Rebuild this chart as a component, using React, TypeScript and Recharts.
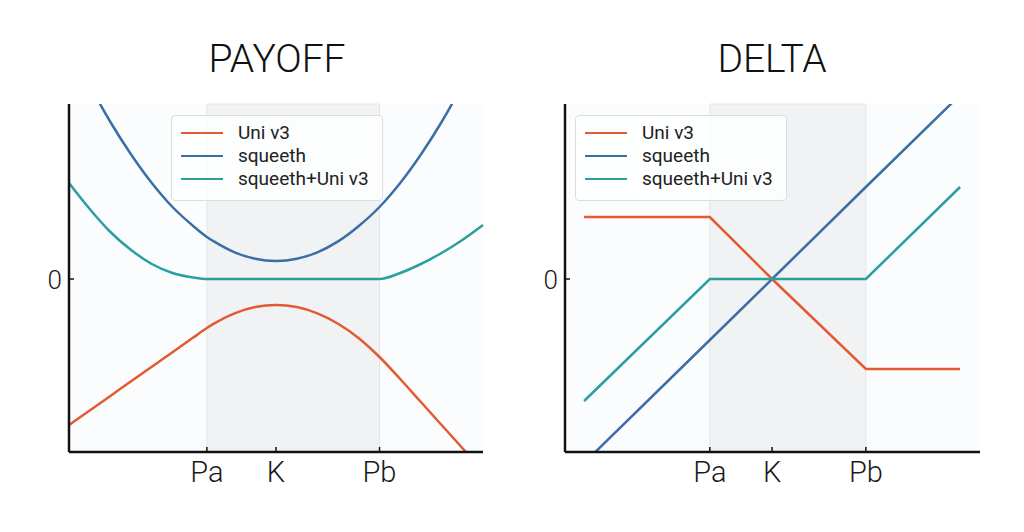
import React from 'react';
import { LineChart, Line, XAxis, YAxis, CartesianGrid, ReferenceArea, Legend } from 'recharts';

// price grid for the payoff panel (0..100, Pa / K / Pb marked)
const payoffX = [0, 5, 10, 15, 20, 25, 30, 33.3, 35, 40, 45, 50, 55, 60, 65, 70, 75, 80, 85, 90, 95, 100];
const payoffUni = [-146, -131.4, -116.9, -102.3, -87.8, -73.2, -58.6, -49, -44.7, -34.3, -28.1, -26, -28.1, -34.3, -44.7, -59.2, -78, -100, -123, -146, -169, -192];
const payoffSqueeth = [235, 194, 157, 124.5, 96, 72, 53, 42, 37.6, 26.7, 20.2, 18, 20.2, 26.7, 37.6, 53, 72, 96, 124.5, 157, 194, 235];
const payoffCombo = [96, 70, 47, 29, 15, 6, 1.5, 0, 0, 0, 0, 0, 0, 0, 0, 0, 0, 6, 15, 26, 39, 54];
const payoffTicks = [33.3, 50, 75];

// delta panel
const deltaX = [4.6, 34.9, 49.9, 72.5, 95.2];
const deltaUni = [62, 62, 0, -90, -90];
const deltaSqueeth = [-184, -61, 0, 92, 184];
const deltaCombo = [-122, 0, 0, 0, 92];
const deltaTicks = [34.9, 49.9, 72.5];

const tickLabels = ['Pa', 'K', 'Pb'];

const seriesNames = ['Uni v3', 'squeeth', 'squeeth+Uni v3'];
const seriesColors = ['#e35a32', '#3a6fa6', '#2b9f9f'];

const payoffData = payoffX.map((x, i) => ({ x, uni: payoffUni[i], sq: payoffSqueeth[i], combo: payoffCombo[i] }));
const deltaData = deltaX.map((x, i) => ({ x, uni: deltaUni[i], sq: deltaSqueeth[i], combo: deltaCombo[i] }));

const FONT = 'Roboto, "Helvetica Neue", Arial, sans-serif';

const makeXTick = (ticks: number[]) => (props: any) => {
    const { x, y, payload } = props;
    const label = tickLabels[ticks.indexOf(payload.value)];
    return (
        <g>
            <line x1={x} x2={x} y1={y} y2={y - 5} stroke="#111" strokeWidth={1.5} />
            <text x={x} y={y + 30} textAnchor="middle" fontSize={29} fontWeight={300} fill="#1a1a1a" fontFamily={FONT}>
                {label}
            </text>
        </g>
    );
};

const YTick = (props: any) => {
    const { x, y } = props;
    return (
        <g>
            <line x1={x} x2={x + 5} y1={y} y2={y} stroke="#111" strokeWidth={1.5} />
            <text x={x - 7} y={y + 9.5} textAnchor="end" fontSize={26} fontWeight={300} fill="#1a1a1a" fontFamily={FONT}>
                0
            </text>
        </g>
    );
};

const LegendBox = () => (
    <div
        style={{
            border: '1px solid #dcdde0',
            borderRadius: 4,
            background: 'rgba(255,255,255,0.8)',
            padding: '5px 0 10px 9px',
            boxSizing: 'border-box',
            width: 212,
            fontFamily: FONT,
        }}
    >
        {seriesNames.map((name, i) => (
            <div key={name} style={{ display: 'flex', alignItems: 'center', height: 23 }}>
                <span style={{ display: 'inline-block', width: 42, height: 0, borderTop: `2.5px solid ${seriesColors[i]}` }} />
                <span style={{ marginLeft: 15, fontSize: 19, fontWeight: 400, color: '#222', lineHeight: '23px' }}>{name}</span>
            </div>
        ))}
    </div>
);

interface PanelProps {
    data: any[];
    ticks: number[];
    pa: number;
    pb: number;
    curve: 'monotone' | 'linear';
    margin: { top: number; right: number; bottom: number; left: number };
    legendLeft: number;
}

const Panel: React.FC<PanelProps> = ({ data, ticks, pa, pb, curve, margin, legendLeft }) => (
    <LineChart width={512} height={532} data={data} margin={margin}>
        <CartesianGrid horizontal={false} vertical={false} fill="#fbfcfe" />
        <ReferenceArea x1={pa} x2={pb} fill="#f1f2f4" fillOpacity={1} stroke="#e4e7ea" strokeWidth={1} />
        <XAxis
            dataKey="x"
            type="number"
            domain={[0, 100]}
            ticks={ticks}
            height={50}
            tickSize={0}
            tickMargin={0}
            tickLine={false}
            tick={makeXTick(ticks)}
            axisLine={{ stroke: '#111', strokeWidth: 2.5 }}
            interval={0}
        />
        <YAxis
            type="number"
            domain={[-173, 175]}
            allowDataOverflow
            ticks={[0]}
            width={49}
            tickSize={0}
            tickMargin={0}
            tickLine={false}
            tick={YTick}
            axisLine={{ stroke: '#111', strokeWidth: 2.5 }}
        />
        <Line type={curve} dataKey="uni" name={seriesNames[0]} stroke={seriesColors[0]} strokeWidth={2.5} dot={false} isAnimationActive={false} />
        <Line type={curve} dataKey="sq" name={seriesNames[1]} stroke={seriesColors[1]} strokeWidth={2.5} dot={false} isAnimationActive={false} />
        <Line type={curve} dataKey="combo" name={seriesNames[2]} stroke={seriesColors[2]} strokeWidth={2.5} dot={false} isAnimationActive={false} />
        <Legend
            layout="vertical"
            align="center"
            verticalAlign="middle"
            content={<LegendBox />}
            wrapperStyle={{ position: 'absolute', left: legendLeft, top: 115, width: 212, height: 85 }}
        />
    </LineChart>
);

const titleStyle = (center: number): React.CSSProperties => ({
    position: 'absolute',
    left: center - 150,
    top: 40,
    width: 300,
    textAlign: 'center',
    fontFamily: FONT,
    fontWeight: 300,
    fontSize: 39,
    lineHeight: '39px',
    color: '#111',
});

export default function App() {
    return (
        <div style={{ position: 'absolute', left: 0, top: 0, width: 1024, height: 532, background: '#fff', overflow: 'hidden' }}>
            <div style={titleStyle(277)}>PAYOFF</div>
            <div style={titleStyle(772)}>DELTA</div>
            <div style={{ position: 'absolute', left: 0, top: 0 }}>
                <Panel
                    data={payoffData}
                    ticks={payoffTicks}
                    pa={33.3}
                    pb={75}
                    curve="monotone"
                    margin={{ top: 104, right: 29, bottom: 30, left: 20 }}
                    legendLeft={171}
                />
            </div>
            <div style={{ position: 'absolute', left: 512, top: 0 }}>
                <Panel
                    data={deltaData}
                    ticks={deltaTicks}
                    pa={34.9}
                    pb={72.5}
                    curve="linear"
                    margin={{ top: 104, right: 44, bottom: 30, left: 4 }}
                    legendLeft={63}
                />
            </div>
        </div>
    );
}
